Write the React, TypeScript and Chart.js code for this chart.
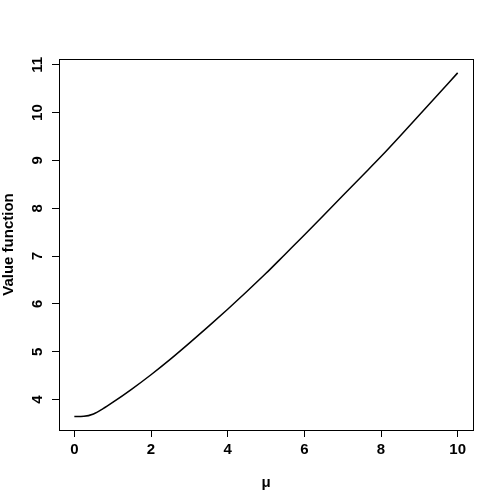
import React, { useEffect, useRef } from "react";
import { Chart, registerables } from "chart.js";

Chart.register(...registerables);

const muValues = [0, 0.25, 0.5, 0.75, 1, 1.5, 2, 2.5, 3, 3.5, 4, 4.5, 5, 5.5, 6, 6.5, 7, 7.5, 8, 8.5, 9, 9.5, 10];
const valueFunction = [3.645, 3.65, 3.7, 3.81, 3.94, 4.22, 4.52, 4.84, 5.18, 5.53, 5.89, 6.26, 6.64, 7.04, 7.44, 7.85, 8.26, 8.67, 9.08, 9.51, 9.95, 10.39, 10.83];
const xTicks = [0, 2, 4, 6, 8, 10];
const yTicks = [4, 5, 6, 7, 8, 9, 10, 11];
const xTitle = "μ";
const yTitle = "Value function";

const FONT = "'Liberation Sans', Arial, Helvetica, sans-serif";

const boxPlugin = {
  id: "box",
  afterDraw(chart: any) {
    const { ctx, chartArea } = chart;
    ctx.save();
    ctx.strokeStyle = "#000";
    ctx.lineWidth = 1;
    ctx.strokeRect(
      Math.round(chartArea.left) + 0.5,
      Math.round(chartArea.top) + 0.5,
      Math.round(chartArea.right - chartArea.left),
      Math.round(chartArea.bottom - chartArea.top)
    );
    ctx.restore();
  },
};

export default function App() {
  const ref = useRef<HTMLCanvasElement>(null);
  useEffect(() => {
    document.body.style.margin = "0";
    const canvas = ref.current!;
    const chart = new Chart(canvas, {
      type: "line",
      data: {
        datasets: [
          {
            data: muValues.map((x, i) => ({ x, y: valueFunction[i] })),
            borderColor: "#000",
            borderWidth: 1.5,
            pointRadius: 0,
            cubicInterpolationMode: "monotone",
            fill: false,
          },
        ],
      },
      options: {
        responsive: false,
        animation: false,
        layout: { padding: { left: 0, right: 31, top: 59, bottom: 0 } },
        plugins: { legend: { display: false }, tooltip: { enabled: false } },
        scales: {
          x: {
            type: "linear",
            min: -0.4,
            max: 10.4,
            afterBuildTicks: (s: any) => {
              s.ticks = xTicks.map((v) => ({ value: v }));
            },
            afterFit: (s: any) => {
              s.height = 74;
            },
            grid: { drawOnChartArea: false, drawTicks: true, tickLength: 7, color: "#000", lineWidth: 1 },
            border: { display: true, color: "#000", width: 1 },
            ticks: { color: "#000", font: { family: FONT, size: 15, weight: "bold" }, padding: 4, maxRotation: 0, autoSkip: false },
            title: { display: true, text: xTitle, color: "#000", font: { family: FONT, size: 15, weight: "bold" }, padding: { top: 0, bottom: 12 } },
          },
          y: {
            type: "linear",
            min: 3.365,
            max: 11.12,
            afterBuildTicks: (s: any) => {
              s.ticks = yTicks.map((v) => ({ value: v }));
            },
            afterFit: (s: any) => {
              s.width = 59;
            },
            grid: { drawOnChartArea: false, drawTicks: true, tickLength: 7, color: "#000", lineWidth: 1 },
            border: { display: true, color: "#000", width: 1 },
            ticks: { color: "#000", font: { family: FONT, size: 15, weight: "bold" }, padding: 6, minRotation: 90, maxRotation: 90, crossAlign: "center", autoSkip: false },
            title: { display: true, text: yTitle, color: "#000", font: { family: FONT, size: 15, weight: "bold" }, padding: { top: 0, bottom: 0 } },
          },
        },
      },
      plugins: [boxPlugin],
    } as any);
    return () => chart.destroy();
  }, []);
  return (
    <div style={{ width: 504, height: 504 }}>
      <canvas ref={ref} width={504} height={504} />
    </div>
  );
}
